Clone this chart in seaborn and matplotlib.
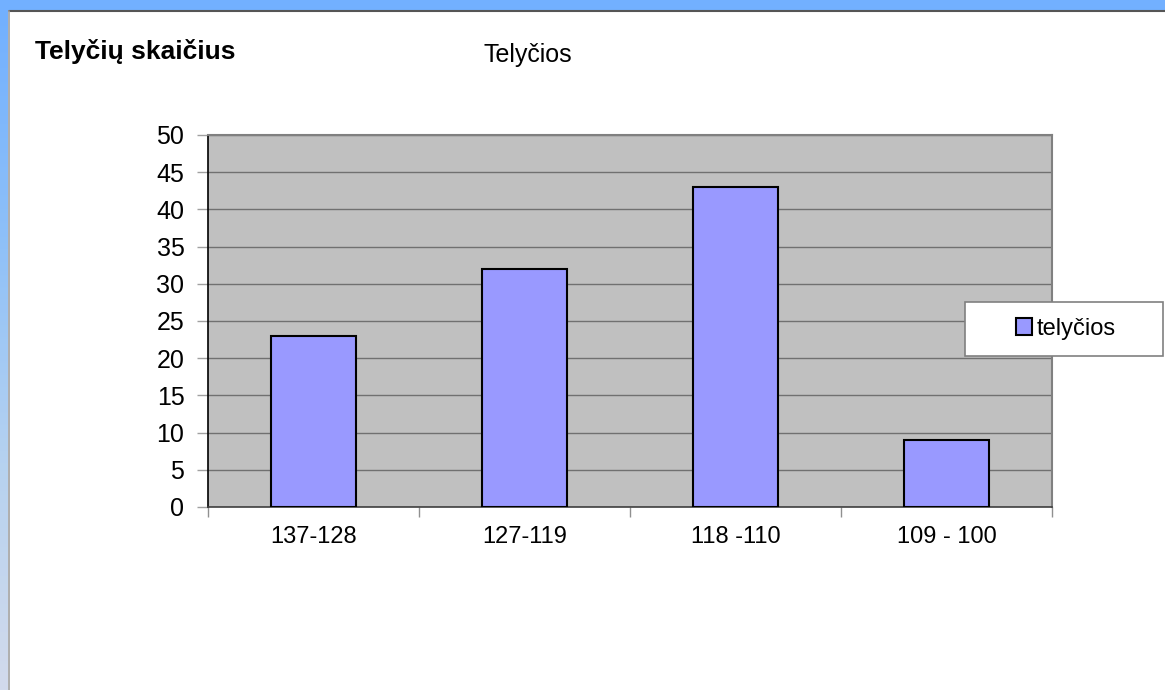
import numpy as np
import matplotlib
matplotlib.use("Agg")
import matplotlib.pyplot as plt
from matplotlib.patches import Rectangle, Patch
from matplotlib.colors import LinearSegmentedColormap
import pandas as pd
import seaborn as sns

# data
categories = ["137-128", "127-119", "118 -110", "109 - 100"]
values = [23, 32, 43, 9]
series_name = "telyčios"

df = pd.DataFrame({"grupe": categories, "kiekis": values})

sns.set_style("white")
plt.rcParams["font.family"] = ["Liberation Sans", "DejaVu Sans"]
plt.rcParams["text.color"] = "black"

W, H = 1165, 690
fig = plt.figure(figsize=(W / 100, H / 100), dpi=100)
fig.patch.set_facecolor("white")

# slide frame: blue top strip and gradient left strip
fig.patches.append(Rectangle((0, 1 - 10 / H), 1, 10 / H, transform=fig.transFigure,
                             facecolor="#72B0FF", edgecolor="none", zorder=0))
grad_ax = fig.add_axes([0, 0, 8 / W, 1 - 10 / H])
cmap = LinearSegmentedColormap.from_list("strip", ["#72B0FF", "#8EC0F8", "#B6D2F0", "#D2DAEC"])
grad_ax.imshow(np.linspace(0, 1, 256).reshape(-1, 1), aspect="auto", cmap=cmap)
grad_ax.axis("off")
fig.add_artist(plt.Line2D([8.5 / W, 1], [1 - 10.5 / H, 1 - 10.5 / H], color="#555555", lw=1.5))
fig.add_artist(plt.Line2D([8.5 / W, 8.5 / W], [0, 1 - 10.5 / H], color="#A0A0A0", lw=1.2))

# plot area
ax = fig.add_axes([208 / W, 1 - 507 / H, 844 / W, 372 / H])
ax.set_facecolor("#C0C0C0")
sns.barplot(data=df, x="grupe", y="kiekis", color="#9999FF", width=0.4,
            edgecolor="black", linewidth=1.5, saturation=1, ax=ax, zorder=3)

ax.set_xlim(-0.5, len(categories) - 0.5)
ax.set_ylim(0, 50)
ax.set_yticks(range(0, 51, 5))
ax.yaxis.grid(True, color="#707070", linewidth=1)
ax.set_axisbelow(True)
ax.set_xlabel("")
ax.set_ylabel("")

ax.tick_params(axis="y", length=8, width=1, color="#A0A0A0", labelsize=18, pad=9,
               left=True, labelcolor="black")
ax.tick_params(axis="x", which="major", length=0, labelsize=17, pad=14, labelcolor="black")
ax.set_xticks(np.arange(-0.5, len(categories), 1), minor=True)
ax.tick_params(axis="x", which="minor", length=7, width=1, color="#909090", bottom=True)

for side in ["top", "right"]:
    ax.spines[side].set_color("#808080")
    ax.spines[side].set_linewidth(1.5)
ax.spines["left"].set_color("black")
ax.spines["left"].set_linewidth(1.2)
ax.spines["bottom"].set_color("#404040")
ax.spines["bottom"].set_linewidth(1.2)

# titles
fig.text(35 / W, 1 - 52 / H, "Telyčių skaičius", fontsize=19, fontweight="bold",
         va="center", ha="left")
fig.text(484 / W, 1 - 55 / H, "Telyčios", fontsize=18, va="center", ha="left")

# legend box
fig.patches.append(Rectangle((965 / W, 1 - 356 / H), 198 / W, 54 / H, transform=fig.transFigure,
                             facecolor="white", edgecolor="#808080", linewidth=1.2, zorder=5))
handle = Patch(facecolor="#9999FF", edgecolor="black", linewidth=1.5)
fig.legend([handle], [series_name], loc="center", bbox_to_anchor=(1066 / W, 1 - 329 / H),
           frameon=False, fontsize=17, handlelength=0.7, handleheight=0.7, handletextpad=0.2)

fig.savefig("out.png", dpi=100)
